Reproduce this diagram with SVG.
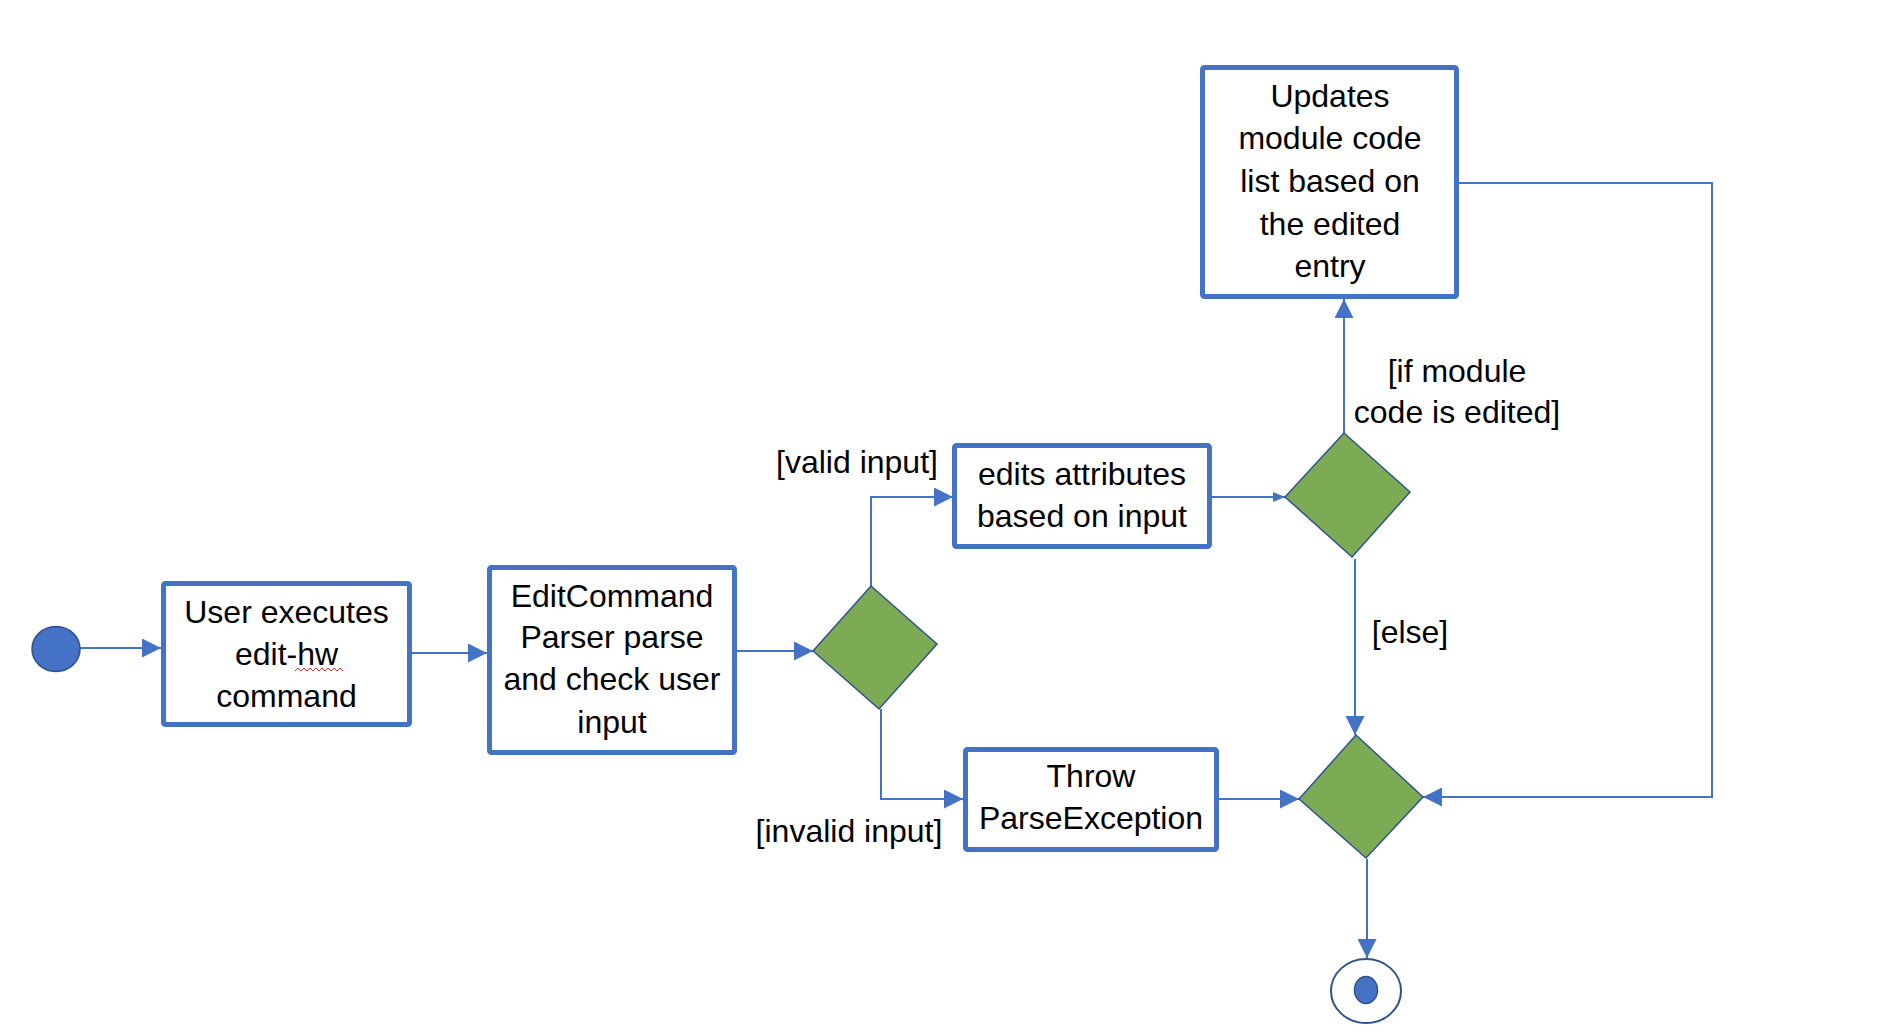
<svg xmlns="http://www.w3.org/2000/svg" width="1884" height="1032" viewBox="0 0 1884 1032">
<style>
.box{fill:#fff;stroke:#4472C4;stroke-width:5;}
.dia{fill:#7DAB55;stroke:#2F528F;stroke-width:1.5;}
.t{font-family:"Liberation Sans",Arial,sans-serif;font-size:32px;fill:#000;text-anchor:middle;}
.c{fill:none;stroke:#4472C4;stroke-width:2;}
</style>
<defs>
<marker id="ah" markerUnits="userSpaceOnUse" markerWidth="19" markerHeight="19" refX="19" refY="9.5" orient="auto">
<path d="M0,0 L19,9.5 L0,19 z" fill="#4472C4"/>
</marker>
<marker id="ahs" markerUnits="userSpaceOnUse" markerWidth="12" markerHeight="10" refX="12" refY="5" orient="auto">
<path d="M0,0 L12,5 L0,10 z" fill="#4472C4"/>
</marker>
</defs>
<rect width="1884" height="1032" fill="#fff"/>
<g id="connectors">
<path class="c" d="M80,648 H161" marker-end="url(#ah)"/>
<path class="c" d="M403,653 H487" marker-end="url(#ah)"/>
<path class="c" d="M732,651 H813" marker-end="url(#ah)"/>
<path class="c" d="M871,586 V497 H953" marker-end="url(#ah)"/>
<path class="c" d="M881,709 V799 H963" marker-end="url(#ah)"/>
<path class="c" d="M1202,497 H1285" marker-end="url(#ahs)"/>
<path class="c" d="M1344,433 V299" marker-end="url(#ah)"/>
<path class="c" d="M1355,559 V735" marker-end="url(#ah)"/>
<path class="c" d="M1219,799 H1299" marker-end="url(#ah)"/>
<path class="c" d="M1459,183 H1712 V797 H1423" marker-end="url(#ah)"/>
<path class="c" d="M1367,859 V958" marker-end="url(#ah)"/>
</g>
<g id="labels">
<text class="t" x="857" y="473">[valid input]</text>
<text class="t" x="849" y="842">[invalid input]</text>
<text class="t" x="1457" y="382">[if module</text>
<text class="t" x="1457" y="423">code is edited]</text>
<text class="t" x="1410" y="643">[else]</text>
</g>
<g id="start">
<ellipse cx="56" cy="649" rx="24" ry="22.5" fill="#4472C4" stroke="#2F528F" stroke-width="1.5"/>
</g>
<g id="n-user">
<rect class="box" x="163.5" y="583.5" width="246" height="141" rx="2"/>
<text class="t" x="286.5" y="623">User executes</text>
<text class="t" x="286.5" y="665">edit-hw</text>
<text class="t" x="286.5" y="707">command</text>
<polyline points="295,671 298,668 301,671 304,668 307,671 310,668 313,671 316,668 319,671 322,668 325,671 328,668 331,671 334,668 337,671 340,668 343,671" fill="none" stroke="#E03030" stroke-width="1"/>
</g>
<g id="n-parser">
<rect class="box" x="489.5" y="567.5" width="245" height="185" rx="2"/>
<text class="t" x="612" y="607">EditCommand</text>
<text class="t" x="612" y="648">Parser parse</text>
<text class="t" x="612" y="690">and check user</text>
<text class="t" x="612" y="733">input</text>
</g>
<g id="d-valid">
<polygon class="dia" points="813,651 871,586 937,644 879,709"/>
</g>
<g id="n-edits">
<rect class="box" x="954.5" y="445.5" width="255" height="101" rx="2"/>
<text class="t" x="1082" y="485">edits attributes</text>
<text class="t" x="1082" y="527">based on input</text>
</g>
<g id="n-throw">
<rect class="box" x="965.5" y="749.5" width="251" height="100" rx="2"/>
<text class="t" x="1091" y="787">Throw</text>
<text class="t" x="1091" y="829">ParseException</text>
</g>
<g id="d-module">
<polygon class="dia" points="1285,497 1344,433 1410,492 1352,557"/>
</g>
<g id="n-updates">
<rect class="box" x="1202.5" y="67.5" width="254" height="229" rx="2"/>
<text class="t" x="1330" y="107">Updates</text>
<text class="t" x="1330" y="149">module code</text>
<text class="t" x="1330" y="192">list based on</text>
<text class="t" x="1330" y="235">the edited</text>
<text class="t" x="1330" y="277">entry</text>
</g>
<g id="d-merge">
<polygon class="dia" points="1299,799 1356,735 1423,797 1366,858"/>
</g>
<g id="end">
<ellipse cx="1366" cy="991" rx="35" ry="32" fill="#fff" stroke="#2F528F" stroke-width="2"/>
<ellipse cx="1366" cy="990" rx="11.5" ry="13.5" fill="#4472C4" stroke="#2F528F" stroke-width="1.5"/>
</g>
</svg>
